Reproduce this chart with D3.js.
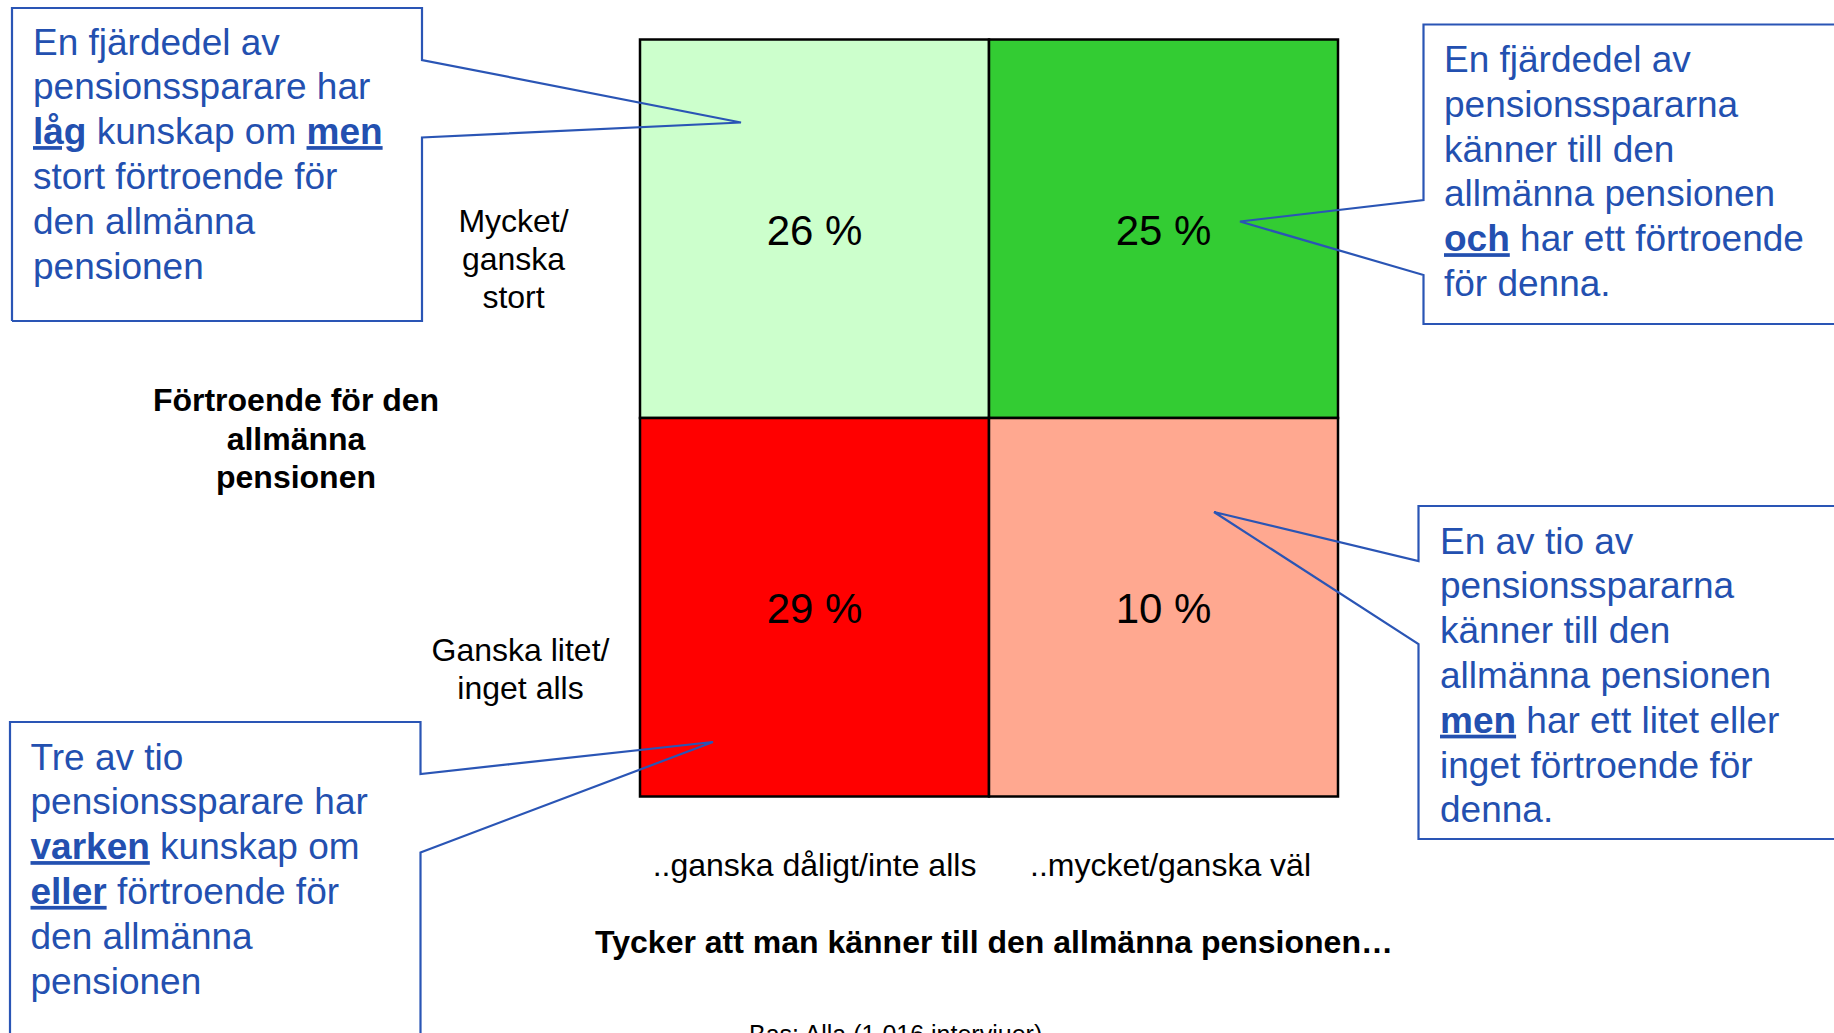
<!DOCTYPE html>
<html>
<head>
<meta charset="utf-8">
<script src="https://cdn.jsdelivr.net/npm/d3@7"></script>
<style>
    body { margin: 0; background: white; overflow: hidden; }
    svg { display: block; font-family: 'Liberation Sans', Arial, Helvetica, sans-serif; }
    .callout-text { fill: #2350b0; font-size: 37px; }
    .callout-text .em { font-weight: bold; text-decoration: underline; }
    .callout-box { fill: none; stroke: #2a55b5; stroke-width: 2.2; }
    .axis-label { fill: black; font-size: 32px; }
    .axis-title { fill: black; font-size: 32px; font-weight: bold; }
</style>
</head>
<body>
<div id="chart"></div>
<script>
// kunskap (x) och förtroende (y)
const knowledge = ['low', 'high'];
const knowledgeLabels = ['..ganska dåligt/inte alls', '..mycket/ganska väl'];
const trust = ['high', 'low'];
const trustLabels = [['Mycket/', 'ganska', 'stort'], ['Ganska litet/', 'inget alls']];

// andel per ruta
const cellKnowledge = ['low', 'high', 'low', 'high'];
const cellTrust = ['high', 'high', 'low', 'low'];
const cellShare = [26, 25, 29, 10];

const xTitle = 'Tycker att man känner till den allmänna pensionen…';
const yTitle = ['Förtroende för den', 'allmänna', 'pensionen'];
const baseNote = 'Bas: Alla (1 016 intervjuer)';

// pratbubblor: en rad är antingen en sträng eller en lista av delar ({b: ...} = fet och understruken)
const calloutTopLeft = [
    'En fjärdedel av',
    'pensionssparare har',
    [{b: 'låg'}, ' kunskap om ', {b: 'men'}],
    'stort förtroende för',
    'den allmänna',
    'pensionen'
];
const calloutTopRight = [
    'En fjärdedel av',
    'pensionsspararna',
    'känner till den',
    'allmänna pensionen',
    [{b: 'och'}, ' har ett förtroende'],
    'för denna.'
];
const calloutBottomRight = [
    'En av tio av',
    'pensionsspararna',
    'känner till den',
    'allmänna pensionen',
    [{b: 'men'}, ' har ett litet eller'],
    'inget förtroende för',
    'denna.'
];
const calloutBottomLeft = [
    'Tre av tio',
    'pensionssparare har',
    [{b: 'varken'}, ' kunskap om'],
    [{b: 'eller'}, ' förtroende för'],
    'den allmänna',
    'pensionen'
];

const width = 1834;
const height = 1033;

const svg = d3.select('#chart')
    .append('svg')
    .attr('width', width)
    .attr('height', height);

const x = d3.scaleBand()
    .domain(knowledge)
    .range([640, 1338]);

const y = d3.scaleBand()
    .domain(trust)
    .range([39.5, 796.5]);

const cellColor = d3.scaleOrdinal()
    .domain(['high|low', 'high|high', 'low|low', 'low|high'])
    .range(['#ccffcc', '#33cc33', '#ff0000', '#ffa890']);

const cells = cellShare.map((v, i) => ({
    know: cellKnowledge[i],
    trust: cellTrust[i],
    share: v
}));

// rutor
svg.selectAll('.cell')
    .data(cells)
    .join('rect')
    .classed('cell', true)
    .attr('x', d => x(d.know))
    .attr('y', d => y(d.trust))
    .attr('width', x.bandwidth())
    .attr('height', y.bandwidth())
    .style('fill', d => cellColor(d.trust + '|' + d.know))
    .style('stroke', 'black')
    .style('stroke-width', 2.5);

svg.selectAll('.cell-label')
    .data(cells)
    .join('text')
    .classed('cell-label', true)
    .attr('x', d => x(d.know) + x.bandwidth() / 2)
    .attr('y', d => y(d.trust) + y.bandwidth() / 2 + 16)
    .attr('text-anchor', 'middle')
    .style('font-size', '42px')
    .style('fill', 'black')
    .text(d => d.share + ' %');

// y-etiketter
const trustLabelX = [513.5, 520.5];
const trustLabelY = [231.5, 661];
trust.forEach((t, i) => {
    svg.append('text')
        .classed('axis-label', true)
        .attr('text-anchor', 'middle')
        .selectAll('tspan')
        .data(trustLabels[i])
        .join('tspan')
        .attr('x', trustLabelX[i])
        .attr('y', (d, j) => trustLabelY[i] + 38.3 * j)
        .text(d => d);
});

svg.append('text')
    .classed('axis-title', true)
    .attr('text-anchor', 'middle')
    .selectAll('tspan')
    .data(yTitle)
    .join('tspan')
    .attr('x', 296)
    .attr('y', (d, i) => 411 + 38.5 * i)
    .text(d => d);

// x-etiketter
const knowLabelOffset = [0, 7];
svg.selectAll('.know-label')
    .data(knowledge)
    .join('text')
    .classed('axis-label', true)
    .classed('know-label', true)
    .attr('x', (d, i) => x(d) + x.bandwidth() / 2 + knowLabelOffset[i])
    .attr('y', 876)
    .attr('text-anchor', 'middle')
    .text((d, i) => knowledgeLabels[i]);

svg.append('text')
    .classed('axis-title', true)
    .attr('x', 994)
    .attr('y', 953)
    .attr('text-anchor', 'middle')
    .text(xTitle);

svg.append('text')
    .attr('x', 749)
    .attr('y', 1043)
    .style('font-size', '25px')
    .style('fill', 'black')
    .text(baseNote);

// pratbubblor
function drawCallout(lines, outline, textX, firstBaseline, lineStep)
{
    svg.append('path')
        .classed('callout-box', true)
        .attr('d', d3.line()(outline));

    const text = svg.append('text')
        .classed('callout-text', true);

    lines.forEach((line, i) => {
        const parts = typeof line === 'string' ? [line] : line;
        parts.forEach((p, j) => {
            const span = text.append('tspan')
                .text(typeof p === 'string' ? p : p.b)
                .classed('em', typeof p !== 'string');
            if (j === 0)
            {
                span.attr('x', textX).attr('y', firstBaseline + lineStep * i);
            }
        });
    });
}

const tipTL = [x('low') + 101, y('high') + 83];
const tipTR = [x('high') + 251, y('high') + 182];
const tipBR = [x('high') + 225, y('low') + 94];
const tipBL = [x('low') + 73, y('low') + 324];

drawCallout(calloutTopLeft,
    [[12, 321], [12, 8], [422, 8], [422, 60], tipTL, [422, 137.5], [422, 321], [12, 321]],
    33, 54.5, 44.8);

drawCallout(calloutTopRight,
    [[1900, 24.5], [1423.5, 24.5], [1423.5, 200], tipTR, [1423.5, 275], [1423.5, 324], [1900, 324]],
    1444, 72, 44.8);

drawCallout(calloutBottomRight,
    [[1900, 506], [1418.5, 506], [1418.5, 561], tipBR, [1418.5, 644], [1418.5, 839], [1900, 839]],
    1440, 553.5, 44.8);

drawCallout(calloutBottomLeft,
    [[10, 1100], [10, 722], [420.5, 722], [420.5, 774], tipBL, [420.5, 852.5], [420.5, 1100]],
    30.5, 769.5, 44.8);
</script>
</body>
</html>
